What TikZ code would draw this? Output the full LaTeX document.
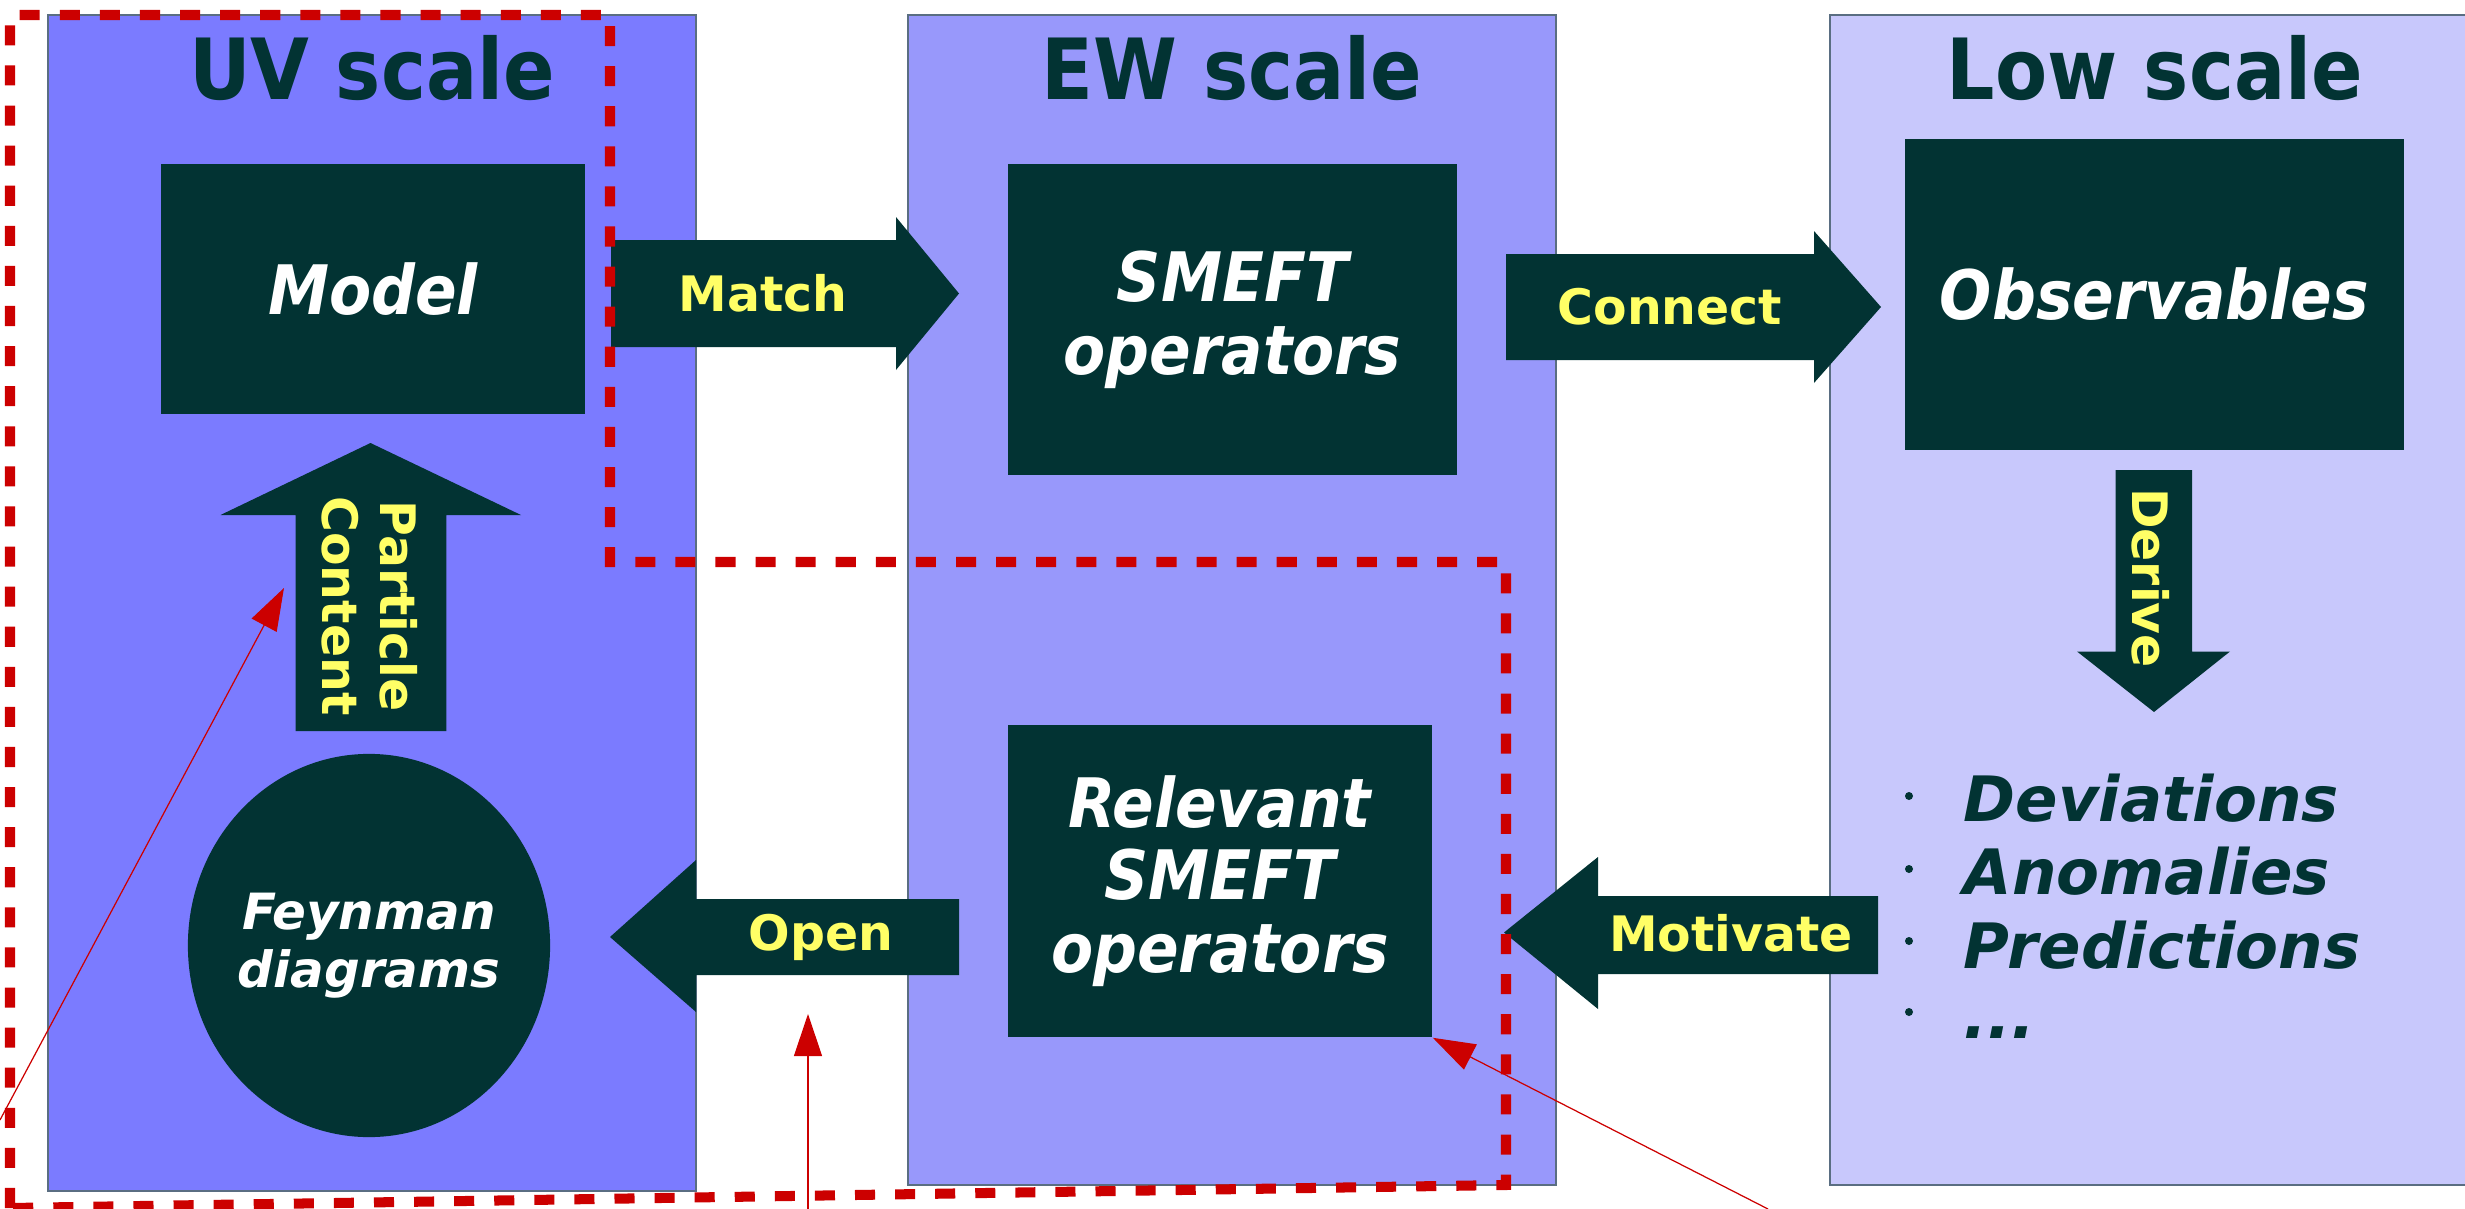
\documentclass[tikz,border=0pt]{standalone}
\usepackage{fontspec}
\setmainfont{DejaVu Sans Condensed}
\newfontfamily\regfont{DejaVu Sans}
\usetikzlibrary{arrows.meta,shapes.geometric}
\definecolor{uvc}{RGB}{123,123,255}
\definecolor{ewc}{RGB}{152,152,251}
\definecolor{lowc}{RGB}{200,200,252}
\definecolor{dark}{RGB}{2,51,51}
\definecolor{yel}{RGB}{255,255,102}
\definecolor{redc}{RGB}{204,0,0}
\definecolor{edgec}{RGB}{90,110,130}
\tikzset{
 panel/.style={draw=edgec, line width=0.4pt},
 paneltitle/.style={font=\fontsize{24}{28}\selectfont\bfseries, text=dark, anchor=base, inner sep=0pt},
 darkbox/.style={fill=dark, draw=none, text=white, font=\fontsize{19.4}{20.7}\selectfont\bfseries\itshape, align=center, inner sep=0pt},
 fat/.style={fill=dark},
 lab/.style={text=yel, font=\regfont\fontsize{13.9}{16.5}\selectfont\bfseries, align=center, inner sep=0pt},
 frame/.style={draw=redc, line width=2.85pt, dash pattern=on 5.7pt off 5.7pt},
 pointer/.style={draw=redc, line width=0.35pt, -{Triangle[length=12pt,width=8pt]}},
 listitem/.style={text=dark, font=\regfont\fontsize{17.8}{20.7}\selectfont\bfseries\itshape, anchor=base west, inner sep=0pt},
}
\begin{document}
\begin{tikzpicture}[x=0.01cm,y=-0.01cm]
\useasboundingbox (0,0) rectangle (2465,1209);
% panels
\filldraw[panel, fill=uvc] (48,15) rectangle (696,1191);
\filldraw[panel, fill=ewc] (908,15) rectangle (1556,1185);
\filldraw[panel, fill=lowc] (1830,15) rectangle (2475,1185);
\node[paneltitle] (uvt) at (372,100) {UV scale};
\node[paneltitle] (ewt) at (1232,100) {EW scale};
\node[paneltitle] (lowt) at (2155,100) {Low scale};
% boxes
\node[darkbox, minimum width=4.24cm, minimum height=2.5cm] (model) at (373,289) {Model};
\node[darkbox, minimum width=4.49cm, minimum height=3.11cm] (smeft) at (1232.5,319.5) {SMEFT\\operators};
\node[darkbox, minimum width=4.99cm, minimum height=3.11cm] (obs) at (2154.5,294.5) {Observables};
\node[darkbox, minimum width=4.24cm, minimum height=3.12cm] (rel) at (1220,881) {Relevant\\SMEFT\\operators};
\node[ellipse, fill=dark, minimum width=3.62cm, minimum height=3.83cm, inner sep=0pt] (feyn) at (369,945.5) {};
\node[text=white, inner sep=0pt, align=center, font=\regfont\fontsize{14.2}{16.4}\selectfont\bfseries\itshape] (feyntext) at (feyn.center) {Feynman\\diagrams};
% fat arrows
\fill[fat] (611,240) -- (896,240) -- (896,217) -- (959,293.5) -- (896,370) -- (896,347) -- (611,347) -- cycle;
\node[lab] (match) at (763,293.5) {Match};
\fill[fat] (1506,254) -- (1814,254) -- (1814,231) -- (1881,307) -- (1814,383) -- (1814,360) -- (1506,360) -- cycle;
\node[lab] (connect) at (1670,307) {Connect};
\fill[fat] (1878,896) -- (1598,896) -- (1598,857) -- (1504,932.5) -- (1598,1009) -- (1598,974) -- (1878,974) -- cycle;
\node[lab] (motivate) at (1731,933) {Motivate};
\fill[fat] (959,899) -- (696,899) -- (696,860) -- (610,937) -- (696,1012) -- (696,975) -- (959,975) -- cycle;
\node[lab] (open) at (821,937) {Open};
\fill[fat] (295.5,731) -- (295.5,515) -- (220.5,515) -- (370.5,443) -- (521,515) -- (446.4,515) -- (446.4,731) -- cycle;
\node[lab, rotate=-90] (particle) at (370,606) {Particle\\Content};
\fill[fat] (2115.5,470) -- (2192,470) -- (2192,651.5) -- (2230,651.5) -- (2154,712) -- (2077,651.5) -- (2115.5,651.5) -- cycle;
\node[lab, rotate=-90] (derive) at (2151,578) {Derive};
% list
\node[listitem] (dev) at (1963,821) {Deviations};
\node[listitem] (ano) at (1963,894) {Anomalies};
\node[listitem] (pre) at (1963,968) {Predictions};
\node[listitem] (etc) at (1963,1038) {...};
\foreach \yy in {796,869,941,1012} \fill[dark] (1909,\yy) circle (0.04cm);
% dashed frame
\draw[frame] (10,1208) -- (10,15) -- (610,15) -- (610,562) -- (1506,562) -- (1506,1185) -- cycle;
% pointers
\coordinate (p1s) at (0,1120);
\coordinate (p1e) at (284,588);
\coordinate (p2s) at (808,1209);
\coordinate (p2e) at (808,1014);
\coordinate (p3s) at (1768,1209);
\draw[pointer] (p1s) -- (p1e);
\draw[pointer] (p2s) -- (p2e);
\draw[pointer] (p3s) -- (rel.south east);
\end{tikzpicture}
\end{document}
